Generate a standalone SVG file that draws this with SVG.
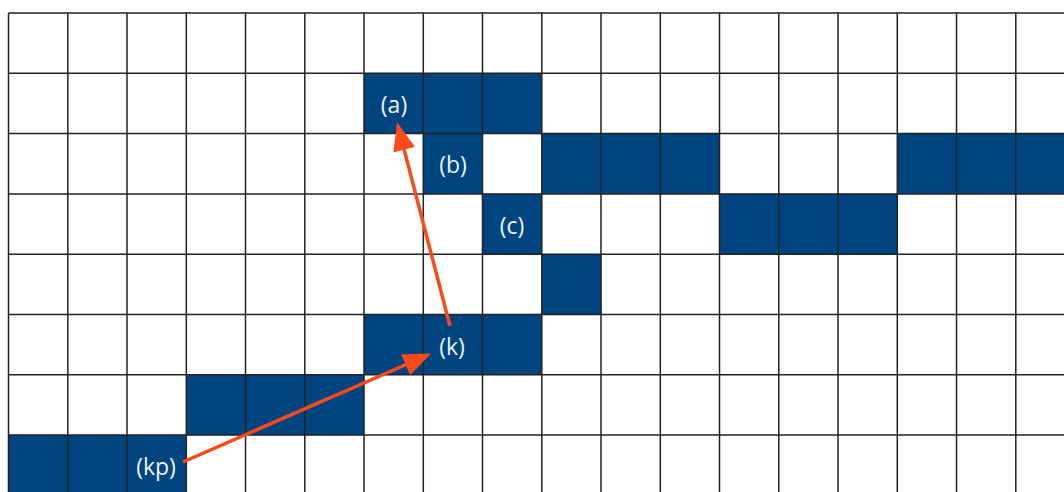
<svg xmlns="http://www.w3.org/2000/svg" width="1064" height="492" viewBox="0 0 1064 492">
<defs>
<style>
.f{fill:#00457f}
.g{stroke:#222;stroke-width:1.5;fill:none}
.t{font-family:"Open Sans","DejaVu Sans",sans-serif;font-size:23px;fill:#eef3f8;text-anchor:middle;dominant-baseline:central}
.c{stroke:#fb4a1a;stroke-width:3.5;fill:none}
</style>
<marker id="ah" markerWidth="8" markerHeight="6.4" refX="7" refY="3.2" orient="auto" markerUnits="strokeWidth">
<path d="M0,0 L8,3.2 L0,6.4 Z" fill="#fb4a1a"/>
</marker>
</defs>
<rect width="1064" height="492" fill="#fff"/>
<g id="cells">
<rect class="f" x="364" y="73.3" width="177.8" height="60.3"/>
<rect class="f" x="423.3" y="133.6" width="59.2" height="60.3"/>
<rect class="f" x="542" y="133.6" width="177.7" height="60.3"/>
<rect class="f" x="897.8" y="133.6" width="170" height="60.3"/>
<rect class="f" x="482.5" y="193.9" width="59.3" height="60.3"/>
<rect class="f" x="719.8" y="193.9" width="178" height="60.3"/>
<rect class="f" x="542" y="254.2" width="59.3" height="60.3"/>
<rect class="f" x="364" y="314.5" width="177.8" height="60.3"/>
<rect class="f" x="186.3" y="374.8" width="177.7" height="60.3"/>
<rect class="f" x="8.5" y="435.1" width="177.8" height="60"/>
</g>
<g id="grid" class="g">
<path d="M8.5,13V492M67.8,13V492M127,13V492M186.3,13V492M245.5,13V492M304.8,13V492M364,13V492M423.3,13V492M482.5,13V492M541.8,13V492M601,13V492M660.3,13V492M719.5,13V492M778.8,13V492M838,13V492M897.3,13V492M956.5,13V492M1015.8,13V492"/>
<path d="M8.5,13H1064M8.5,73.3H1064M8.5,133.6H1064M8.5,193.9H1064M8.5,254.2H1064M8.5,314.5H1064M8.5,374.8H1064M8.5,435.1H1064"/>
</g>
<g id="node-a"><text class="t" x="394" y="104">(a)</text></g>
<g id="node-b"><text class="t" x="453" y="164">(b)</text></g>
<g id="node-c"><text class="t" x="512" y="225">(c)</text></g>
<g id="node-k"><text class="t" x="452" y="346">(k)</text></g>
<g id="node-kp"><text class="t" x="156" y="466">(kp)</text></g>
<g id="connectors">
<line class="c" x1="450" y1="326" x2="398" y2="126" marker-end="url(#ah)"/>
<line class="c" x1="183" y1="462" x2="428" y2="355" marker-end="url(#ah)"/>
</g>
</svg>
